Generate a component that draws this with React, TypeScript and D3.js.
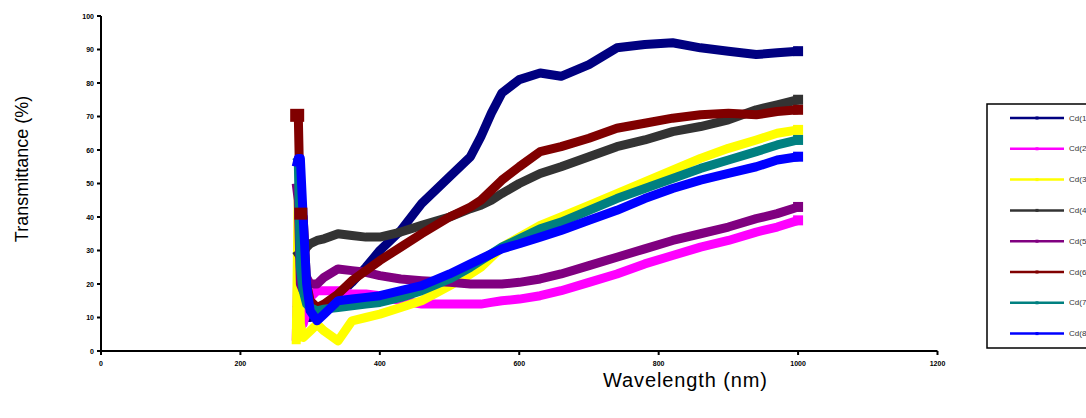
import React from "react";
import * as d3 from "d3";

const wavelengths = [280, 283, 286, 290, 295, 300, 310, 320, 340, 360, 380, 400, 430, 460, 500, 530, 545, 560, 575, 600, 630, 660, 700, 740, 780, 820, 860, 900, 940, 970, 1000];

const cd1 = [14, 13, 12, 11, 10, 10, 12, 13, 16.5, 20.5, 25, 30, 36, 44, 52, 58, 64, 71, 77, 81, 83, 82, 85.5, 90.5, 91.5, 92, 90.5, 89.5, 88.5, 89, 89.5];
const cd2 = [3, 29, 10, 8, 12, 16, 18, 18, 18, 17, 17, 16.5, 15, 14, 14, 14, 14, 14.5, 15, 15.5, 16.5, 18, 20.5, 23, 26, 28.5, 31, 33, 35.5, 37, 39];
const cd3 = [2, 48, 8, 4, 5, 6, 8, 6, 3, 9, 10, 11, 13, 15, 19.5, 23, 25, 28, 31, 34, 37.5, 40, 43.5, 47, 50.5, 54, 57.5, 60.5, 63, 65, 66];
const cd4 = [30, 29, 28, 29, 31, 32, 33, 33.5, 35, 34.5, 34, 34, 35.5, 37.5, 40, 42.5, 43.5, 45, 47, 50, 53, 55, 58, 61, 63, 65.5, 67, 69, 72, 73.5, 75];
const cd5 = [50, 45, 20, 18, 22, 20, 20, 22, 24.5, 24, 23.5, 22.5, 21.5, 21, 20.5, 20, 20, 20, 20, 20.5, 21.5, 23, 25.5, 28, 30.5, 33, 35, 37, 39.5, 41, 43];
const cd6 = [70.5, 70.5, 41, 40, 20, 15, 13, 14, 17, 21, 24, 27, 31, 35, 40, 43, 45, 48, 51, 55, 59.5, 61, 63.5, 66.5, 68, 69.5, 70.5, 71, 70.5, 71.5, 72];
const cd7 = [58, 57, 25, 18, 14, 13, 12, 12.5, 13, 13.5, 14, 14.5, 16, 18, 21.5, 25, 27, 29, 31, 33.5, 36.5, 38.5, 42, 45.5, 48.5, 51.5, 54.5, 57, 59.5, 61.5, 63];
const cd8 = [55, 57.5, 57.5, 40, 20, 12, 9, 11, 15, 15.5, 16, 16.5, 18, 19.5, 23, 26, 27.5, 29, 30.5, 32, 34, 36, 39, 42, 45.5, 48.5, 51, 53, 55, 57, 58];

const seriesNames = ["Cd(1)", "Cd(2)", "Cd(3)", "Cd(4)", "Cd(5)", "Cd(6)", "Cd(7)", "Cd(8)"];
const seriesValues = [cd1, cd2, cd3, cd4, cd5, cd6, cd7, cd8];
const seriesColors = ["#000080", "#FF00FF", "#FFFF00", "#333333", "#800080", "#800000", "#008080", "#0000FF"];

const xTicks = [0, 200, 400, 600, 800, 1000, 1200];
const yTicks = [0, 10, 20, 30, 40, 50, 60, 70, 80, 90, 100];

export default function App() {
  const W = 1086, H = 418;
  const x = d3.scaleLinear().domain([0, 1200]).range([101, 937.5]);
  const y = d3.scaleLinear().domain([0, 100]).range([351, 16]);
  const line = d3
    .line<[number, number]>()
    .x((d) => x(d[0]))
    .y((d) => y(d[1]));

  const legendTop = 118;
  const legendStep = 30.8;

  return (
    <svg
      width={W}
      height={H}
      style={{ position: "absolute", left: 0, top: 0, background: "#fff" }}
      fontFamily="Liberation Sans, Arial, sans-serif"
    >
      <rect x={0} y={0} width={W} height={H} fill="#fff" />
      {seriesValues.map((vals, i) => {
        const pts = wavelengths.map((w, j) => [w, vals[j]] as [number, number]);
        const last = pts[pts.length - 1];
        return (
          <g key={i}>
            <path
              d={line(pts) || ""}
              fill="none"
              stroke={seriesColors[i]}
              strokeWidth={9}
              strokeLinejoin="round"
              strokeLinecap="butt"
            />
            <rect x={x(last[0]) - 5} y={y(last[1]) - 5} width={10} height={10} fill={seriesColors[i]} />
          </g>
        );
      })}
      {/* start markers of dark red and blue */}
      <rect x={x(wavelengths[0]) - 6} y={y(cd6[0]) - 6} width={14} height={13} fill="#800000" />
      <rect x={x(wavelengths[2]) - 6} y={y(cd6[2]) - 6} width={13} height={12} fill="#800000" />
      <rect x={x(wavelengths[1]) - 4} y={y(cd8[1]) - 2} width={9} height={5} fill="#0000FF" />
      {/* axes */}
      <line x1={x(0)} x2={x(0)} y1={y(100)} y2={y(0) + 1.5} stroke="#000" strokeWidth={2} />
      <line x1={x(0)} x2={x(1200)} y1={y(0)} y2={y(0)} stroke="#000" strokeWidth={2} />
      {yTicks.map((t) => (
        <g key={"y" + t}>
          <line x1={x(0) - 4} x2={x(0)} y1={y(t)} y2={y(t)} stroke="#000" strokeWidth={2} />
          <text x={x(0) - 7} y={y(t)} fontSize={7} fontWeight="bold" textAnchor="end" dominantBaseline="central" fill="#000">
            {t}
          </text>
        </g>
      ))}
      {xTicks.map((t) => (
        <g key={"x" + t}>
          <line x1={x(t)} x2={x(t)} y1={y(0)} y2={y(0) + 4} stroke="#000" strokeWidth={2} />
          <text x={x(t)} y={y(0) + 15} fontSize={7} fontWeight="bold" textAnchor="middle" fill="#000">
            {t}
          </text>
        </g>
      ))}
      {/* axis titles */}
      <text transform={`translate(28,169) rotate(-90)`} fontSize={18} textAnchor="middle" fill="#000">
        Transmittance (%)
      </text>
      <text x={685} y={387} fontSize={20} textAnchor="middle" fill="#000" textLength={164} lengthAdjust="spacing">
        Wavelength (nm)
      </text>
      {/* legend */}
      <rect x={987} y={104} width={130} height={244} fill="#fff" stroke="#000" strokeWidth={1.5} />
      {seriesNames.map((n, i) => {
        const ly = legendTop + i * legendStep;
        return (
          <g key={n}>
            <line x1={1010} x2={1064} y1={ly} y2={ly} stroke={seriesColors[i]} strokeWidth={2.5} />
            <rect x={1035.5} y={ly - 1.5} width={3} height={3} fill={seriesColors[i]} />
            <text x={1069} y={ly} fontSize={8} fill="#333" dominantBaseline="central">
              {n}
            </text>
          </g>
        );
      })}
    </svg>
  );
}
